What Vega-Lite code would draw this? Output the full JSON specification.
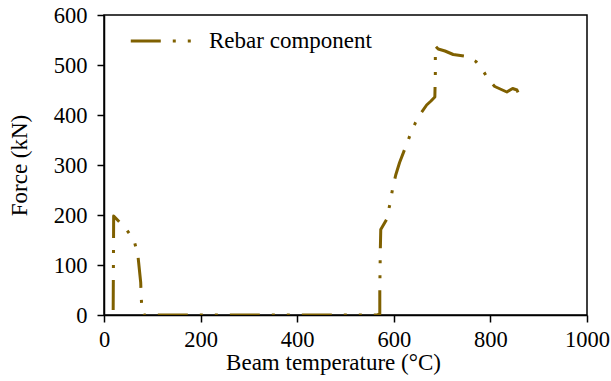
{
  "$schema": "https://vega.github.io/schema/vega-lite/v6.json",
  "width": 483,
  "height": 300,
  "autosize": {"type": "none"},
  "padding": {"left": 104, "top": 15, "right": 24, "bottom": 66},
  "background": "white",
  "config": {
    "view": {"stroke": "black", "strokeWidth": 1.5},
    "font": "Liberation Serif"
  },
  "data": {
    "values": [
      {"T": 19, "F": 10, "s": "Rebar component"},
      {"T": 20, "F": 198, "s": "Rebar component"},
      {"T": 45, "F": 173, "s": "Rebar component"},
      {"T": 62, "F": 150, "s": "Rebar component"},
      {"T": 70, "F": 121, "s": "Rebar component"},
      {"T": 76, "F": 65, "s": "Rebar component"},
      {"T": 77, "F": 37, "s": "Rebar component"},
      {"T": 79, "F": 3, "s": "Rebar component"},
      {"T": 82, "F": 0, "s": "Rebar component"},
      {"T": 300, "F": 0, "s": "Rebar component"},
      {"T": 566, "F": 0, "s": "Rebar component"},
      {"T": 571, "F": 2, "s": "Rebar component"},
      {"T": 571, "F": 48, "s": "Rebar component"},
      {"T": 572, "F": 125, "s": "Rebar component"},
      {"T": 573, "F": 171, "s": "Rebar component"},
      {"T": 585, "F": 191, "s": "Rebar component"},
      {"T": 592, "F": 222, "s": "Rebar component"},
      {"T": 598, "F": 255, "s": "Rebar component"},
      {"T": 604, "F": 280, "s": "Rebar component"},
      {"T": 612, "F": 305, "s": "Rebar component"},
      {"T": 622, "F": 330, "s": "Rebar component"},
      {"T": 633, "F": 358, "s": "Rebar component"},
      {"T": 645, "F": 385, "s": "Rebar component"},
      {"T": 657, "F": 405, "s": "Rebar component"},
      {"T": 668, "F": 420, "s": "Rebar component"},
      {"T": 677, "F": 428, "s": "Rebar component"},
      {"T": 685, "F": 436, "s": "Rebar component"},
      {"T": 686, "F": 483, "s": "Rebar component"},
      {"T": 686, "F": 538, "s": "Rebar component"},
      {"T": 692, "F": 532, "s": "Rebar component"},
      {"T": 706, "F": 528, "s": "Rebar component"},
      {"T": 723, "F": 521, "s": "Rebar component"},
      {"T": 752, "F": 517, "s": "Rebar component"},
      {"T": 770, "F": 507, "s": "Rebar component"},
      {"T": 784, "F": 490, "s": "Rebar component"},
      {"T": 796, "F": 471, "s": "Rebar component"},
      {"T": 809, "F": 457, "s": "Rebar component"},
      {"T": 834, "F": 446, "s": "Rebar component"},
      {"T": 846, "F": 453, "s": "Rebar component"},
      {"T": 855, "F": 450, "s": "Rebar component"},
      {"T": 860, "F": 439, "s": "Rebar component"},
      {"T": 867, "F": 435, "s": "Rebar component"},
      {"T": 872, "F": 437, "s": "Rebar component"},
      {"T": 876, "F": 436, "s": "Rebar component"}
    ]
  },
  "mark": {
    "type": "line",
    "strokeWidth": 3,
    "strokeDash": [30, 12, 3, 12, 3, 12],
    "strokeJoin": "round",
    "clip": true
  },
  "encoding": {
    "x": {
      "field": "T",
      "type": "quantitative",
      "scale": {"domain": [0, 1000], "nice": false, "zero": false},
      "axis": {
        "title": "Beam temperature (°C)",
        "values": [0, 200, 400, 600, 800, 1000],
        "format": "d",
        "grid": false,
        "domainColor": "black",
        "domainWidth": 1.5,
        "tickColor": "black",
        "tickWidth": 1.5,
        "tickSize": 7,
        "labelFont": "Liberation Serif",
        "labelFontSize": 22.5,
        "labelColor": "black",
        "labelPadding": 6,
        "labelFlush": false,
        "titleFont": "Liberation Serif",
        "titleFontSize": 23,
        "titleFontWeight": "normal",
        "titleColor": "black",
        "titlePadding": 1,
        "titleX": 229
      }
    },
    "y": {
      "field": "F",
      "type": "quantitative",
      "scale": {"domain": [0, 600], "nice": false},
      "axis": {
        "title": "Force (kN)",
        "values": [0, 100, 200, 300, 400, 500, 600],
        "grid": false,
        "domainColor": "black",
        "domainWidth": 1.5,
        "tickColor": "black",
        "tickWidth": 1.5,
        "tickSize": 7,
        "labelFont": "Liberation Serif",
        "labelFontSize": 22.5,
        "labelColor": "black",
        "labelPadding": 10,
        "labelFlush": false,
        "titleFont": "Liberation Serif",
        "titleFontSize": 23,
        "titleFontWeight": "normal",
        "titleColor": "black",
        "titlePadding": 22
      }
    },
    "color": {
      "field": "s",
      "type": "nominal",
      "scale": {"range": ["#7F6000"]},
      "legend": {
        "title": null,
        "orient": "none",
        "legendX": 25,
        "legendY": -7,
        "padding": 0,
        "symbolType": "stroke",
        "symbolSize": 3900,
        "symbolStrokeWidth": 3,
        "symbolDash": [30, 12, 3, 12, 3, 12],
        "labelOffset": 14,
        "labelLimit": 400,
        "labelFont": "Liberation Serif",
        "labelFontSize": 23,
        "labelColor": "black"
      }
    }
  }
}
